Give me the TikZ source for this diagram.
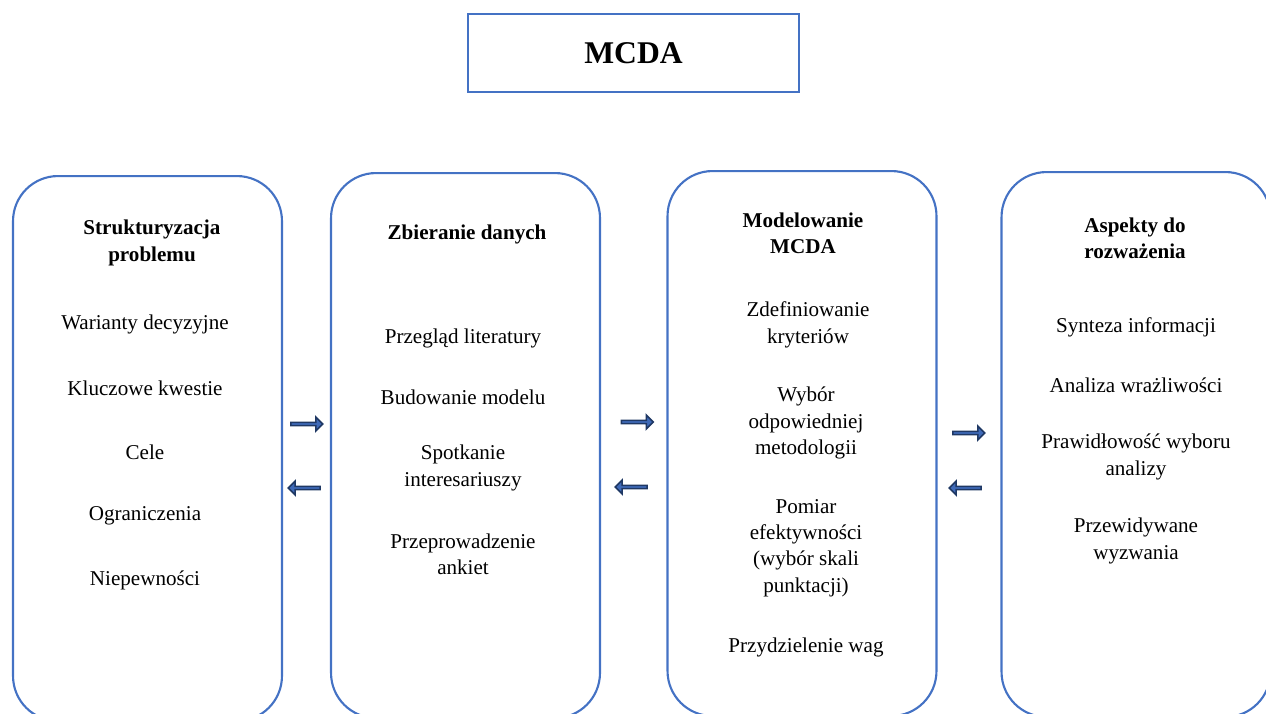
\documentclass[tikz,border=0pt]{standalone}
\usepackage{fontspec}
\setmainfont{Liberation Serif}
\usepackage{xcolor}
\usetikzlibrary{shapes.arrows}
\definecolor{boxblue}{HTML}{4472C4}
\definecolor{arrowline}{HTML}{1F3864}
\definecolor{arrowfill}{HTML}{3F6AB8}

\begin{document}
\begin{tikzpicture}[x=0.02cm,y=-0.02cm,
		every node/.style={inner sep=0pt, align=center, font=\fontsize{12}{15}\selectfont},
		stage/.style={draw=boxblue, line width=1.2pt, rounded corners=0.9cm, minimum width=5.38cm, minimum height=10.9cm, anchor=north},
		head/.style={font=\fontsize{12}{15}\selectfont\bfseries},
		flow/.style={single arrow, draw=arrowline, fill=arrowfill, line width=0.9pt, minimum height=0.64cm, minimum width=0.28cm, single arrow head extend=0.05cm}]
		\useasboundingbox (0,0) rectangle (1266,713);
		\clip (0,0) rectangle (1266,713);
		\node [draw=boxblue, line width=1.2pt, minimum width=6.62cm, minimum height=1.56cm, font=\fontsize{18}{20}\selectfont\bfseries] (mcda) at (633.5,53) {MCDA};
		\node [stage] (s1) at (147.5,175) {};
		\node [stage] (s2) at (465.5,172) {};
		\node [stage] (s3) at (802,170) {};
		\node [stage] (s4) at (1136,171) {};
		\node [head] (h1) at (152,243) {Strukturyzacja\\problemu};
		\node (a1) at (145,324) {Warianty decyzyjne};
		\node (a2) at (145,388) {Kluczowe kwestie};
		\node (a3) at (145,452) {Cele};
		\node (a4) at (145,516) {Ograniczenia};
		\node (a5) at (145,580) {Niepewności};
		\node [head] (h2) at (467,234) {Zbieranie danych};
		\node (b1) at (463,338) {Przegląd literatury};
		\node (b2) at (463,397) {Budowanie modelu};
		\node (b3) at (463,468) {Spotkanie\\interesariuszy};
		\node (b4) at (463,554) {Przeprowadzenie\\ankiet};
		\node [head] (h3) at (803,233) {Modelowanie\\MCDA};
		\node (c1) at (808,325) {Zdefiniowanie\\kryteriów};
		\node (c2) at (806,423) {Wybór\\odpowiedniej\\metodologii};
		\node (c3) at (806,548) {Pomiar\\efektywności\\(wybór skali\\punktacji)};
		\node (c4) at (806,647) {Przydzielenie wag};
		\node [head] (h4) at (1135,238) {Aspekty do\\rozważenia};
		\node (d1) at (1136,327) {Synteza informacji};
		\node (d2) at (1136,385) {Analiza wrażliwości};
		\node (d3) at (1136,457) {Prawidłowość wyboru\\analizy};
		\node (d4) at (1136,541) {Przewidywane\\wyzwania};
		\node [flow] (r12) at (306,424) {};
		\node [flow, shape border rotate=180] (l12) at (305,488) {};
		\node [flow] (r23) at (636.5,422) {};
		\node [flow, shape border rotate=180] (l23) at (632,487) {};
		\node [flow] (r34) at (968,433) {};
		\node [flow, shape border rotate=180] (l34) at (966,488) {};
\end{tikzpicture}
\end{document}
